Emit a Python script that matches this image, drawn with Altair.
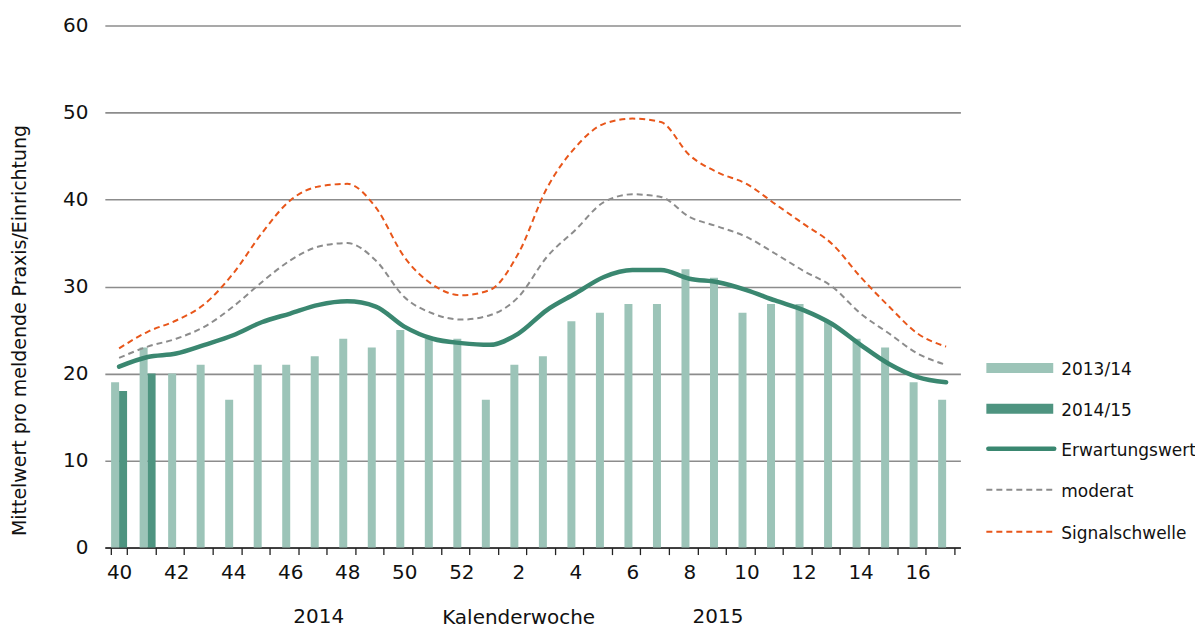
import altair as alt
import pandas as pd

weeks = ["40", "41", "42", "43", "44", "45", "46", "47", "48", "49", "50", "51", "52",
         "1", "2", "3", "4", "5", "6", "7", "8", "9", "10", "11", "12", "13", "14", "15", "16", "17"]

season_1314 = [19, 23, 20, 21, 17, 21, 21, 22, 24, 23, 25, 24, 24,
               17, 21, 22, 26, 27, 28, 28, 32, 31, 27, 28, 28, 26, 24, 23, 19, 17]
season_1415 = [18, 20]  # only weeks 40, 41 reported

erwartungswert = [20.8, 21.9, 22.3, 23.3, 24.4, 25.9, 26.9, 27.9, 28.3, 27.7, 25.4, 24.0, 23.5,
                  23.3, 24.6, 27.3, 29.2, 31.1, 31.9, 31.9, 30.9, 30.5, 29.6, 28.4, 27.3, 25.7, 23.3, 21.1, 19.6, 19.0]
moderat = [21.8, 23.1, 24.0, 25.4, 27.7, 30.5, 33.0, 34.6, 35.0, 33.0, 28.8, 26.9, 26.2,
           26.7, 28.8, 33.4, 36.5, 39.7, 40.6, 40.3, 38.0, 36.9, 35.7, 33.8, 31.8, 30.0, 26.9, 24.6, 22.3, 21.0]
signalschwelle = [22.9, 24.8, 26.1, 28.0, 31.5, 36.1, 39.9, 41.5, 41.8, 39.1, 33.4, 30.2, 29.0,
                  29.6, 33.8, 41.3, 46.0, 48.7, 49.3, 48.9, 45.1, 43.1, 41.8, 39.5, 37.2, 34.9, 31.1, 27.7, 24.6, 23.1]

seasons = ["2013/14", "2014/15"]
year_labels = ["2014", "2015"]
year_weeks = ["47", "9"]

FONT = "DejaVu Sans"
C_LIGHT = "#9cc4b8"
C_DARK = "#4e9480"
C_LINE = "#3a8770"
C_GRAY = "#8c8c8c"
C_ORANGE = "#e8561a"

bars_df = pd.DataFrame(
    [{"week": w, "season": "2013/14", "value": v} for w, v in zip(weeks, season_1314)]
    + [{"week": w, "season": "2014/15", "value": v} for w, v in zip(weeks, season_1415)]
)
lines_df = pd.DataFrame({"week": weeks, "erw": erwartungswert, "mod": moderat, "sig": signalschwelle})
years_df = pd.DataFrame({"week": year_weeks, "label": year_labels})

x_scale = alt.Scale(paddingInner=0.44, paddingOuter=0.22)
y_scale = alt.Scale(domain=[0, 60], nice=False)

x_enc = alt.X(
    "week:N", sort=weeks, scale=x_scale,
    axis=alt.Axis(
        title="Kalenderwoche", titleX=414, titleY=76, titleAlign="center",
        titleBaseline="alphabetic", titleFont=FONT, titleFontSize=20, titleFontWeight="normal",
        titleColor="#111",
        labelExpr="toNumber(datum.value) % 2 == 0 ? datum.value : ''",
        labelAngle=0, labelFont=FONT, labelFontSize=20, labelColor="#111", labelPadding=8,
        tickBand="extent", tickSize=7, tickColor="#222", tickWidth=1.3,
        domainColor="#222", domainWidth=1.5, grid=False,
    ),
)

y_axis = alt.Axis(
    title="Mittelwert pro meldende Praxis/Einrichtung", titleX=-85, titleY=305,
    titleAlign="center", titleBaseline="middle", titleAngle=-90,
    titleFont=FONT, titleFontSize=19, titleFontWeight="normal", titleColor="#111",
    values=[0, 10, 20, 30, 40, 50, 60], labelFont=FONT, labelFontSize=20, labelColor="#111",
    labelPadding=17, ticks=False, domain=False, grid=True, gridColor=C_GRAY, gridWidth=1.6,
)

bars = alt.Chart(bars_df).mark_bar().encode(
    x=x_enc,
    xOffset=alt.XOffset("season:N", sort=seasons, scale=alt.Scale(paddingInner=0, paddingOuter=0)),
    y=alt.Y("value:Q", scale=y_scale, axis=y_axis),
    color=alt.Color("season:N", scale=alt.Scale(domain=seasons, range=[C_LIGHT, C_DARK]), legend=None),
)

base_line = alt.Chart(lines_df)
line_erw = base_line.mark_line(color=C_LINE, strokeWidth=4.5, interpolate="monotone", strokeCap="round").encode(
    x=alt.X("week:N", sort=weeks), y=alt.Y("erw:Q", scale=y_scale))
line_mod = base_line.mark_line(color=C_GRAY, strokeWidth=2, strokeDash=[6, 4], interpolate="monotone").encode(
    x=alt.X("week:N", sort=weeks), y=alt.Y("mod:Q", scale=y_scale))
line_sig = base_line.mark_line(color=C_ORANGE, strokeWidth=2, strokeDash=[6, 4], interpolate="monotone").encode(
    x=alt.X("week:N", sort=weeks), y=alt.Y("sig:Q", scale=y_scale))

years = alt.Chart(years_df).mark_text(font=FONT, fontSize=20, color="#111", baseline="alphabetic").encode(
    x=alt.X("week:N", sort=weeks), y=alt.value(599), text="label:N")

# legend (manual)
LX0, LX1, LTX = 883, 950, 958
legend_items = ["2013/14", "2014/15", "Erwartungswert", "moderat", "Signalschwelle"]
legend_y = [343, 384, 424, 465, 507]
legend_layers = []
legend_layers.append(alt.Chart(pd.DataFrame({"k": [0]})).mark_rect(color=C_LIGHT).encode(
    x=alt.value(LX0), x2=alt.value(LX1), y=alt.value(legend_y[0] - 5), y2=alt.value(legend_y[0] + 5)))
legend_layers.append(alt.Chart(pd.DataFrame({"k": [0]})).mark_rect(color=C_DARK).encode(
    x=alt.value(LX0), x2=alt.value(LX1), y=alt.value(legend_y[1] - 5), y2=alt.value(legend_y[1] + 5)))
legend_layers.append(alt.Chart(pd.DataFrame({"k": [0]})).mark_rule(color=C_LINE, strokeWidth=4.5, strokeCap="round").encode(
    x=alt.value(LX0 + 2), x2=alt.value(LX1 + 1), y=alt.value(legend_y[2])))
legend_layers.append(alt.Chart(pd.DataFrame({"k": [0]})).mark_rule(color=C_GRAY, strokeWidth=2, strokeDash=[6, 4]).encode(
    x=alt.value(LX0), x2=alt.value(LX1), y=alt.value(legend_y[3])))
legend_layers.append(alt.Chart(pd.DataFrame({"k": [0]})).mark_rule(color=C_ORANGE, strokeWidth=2, strokeDash=[6, 4]).encode(
    x=alt.value(LX0), x2=alt.value(LX1), y=alt.value(legend_y[4])))
for name, ly in zip(legend_items, legend_y):
    legend_layers.append(alt.Chart(pd.DataFrame({"label": [name]})).mark_text(
        font=FONT, fontSize=17, color="#111", align="left", baseline="middle").encode(
        x=alt.value(LTX), y=alt.value(ly + 2), text="label:N"))

chart = alt.layer(bars, line_mod, line_sig, line_erw, years, *legend_layers).properties(
    width=857, height=523,
    autosize=alt.AutoSizeParams(type="none"),
    padding={"left": 97, "top": 17, "right": 235, "bottom": 81},
).configure_view(stroke=None)

chart.save("out.html", embed_options={"renderer": "svg", "actions": False})
